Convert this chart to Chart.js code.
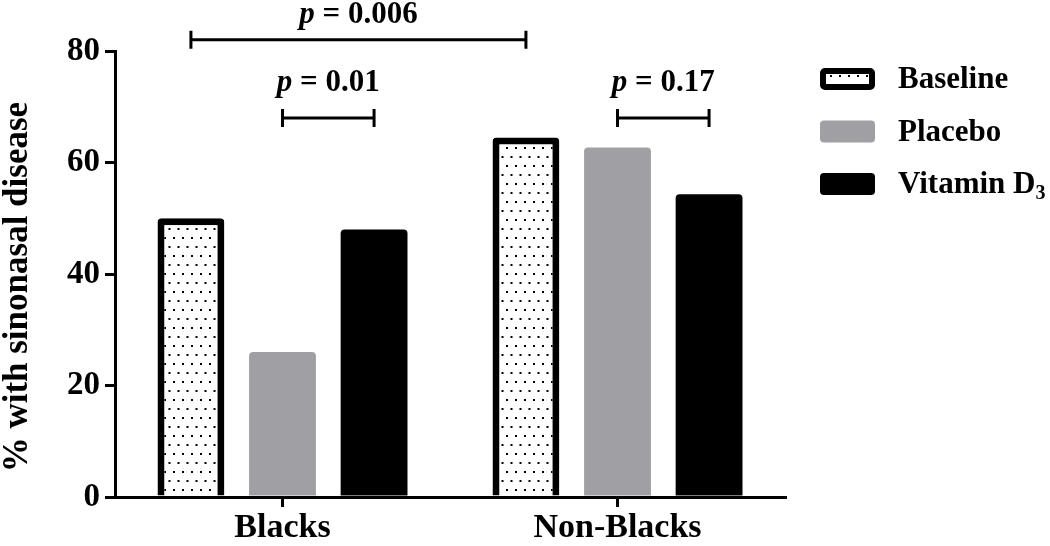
<!DOCTYPE html>
<html>
<head>
<meta charset="utf-8">
<script src="https://cdn.jsdelivr.net/npm/chart.js@4.4.1/dist/chart.umd.min.js"></script>
<style>
  html, body { margin: 0; padding: 0; background: #fff; }
  #wrap { width: 1050px; height: 546px; }
</style>
</head>
<body>
<div id="wrap"><canvas id="bar-chart"></canvas></div>
<script>
const categories = ['Blacks', 'Non-Blacks'];
const seriesNames = ['Baseline', 'Placebo', 'Vitamin D'];
const baseline = [50, 64.5];
const placebo = [26, 62.7];
const vitaminD = [48, 54.3];
const yTicks = [0, 20, 40, 60, 80];
const pValues = ['0.006', '0.01', '0.17'];

const SERIF = "'Liberation Serif', 'Times New Roman', serif";

// dotted fill for the baseline bars
function dotPattern() {
  const c = document.createElement('canvas');
  c.width = 9; c.height = 18;
  const g = c.getContext('2d');
  g.fillStyle = '#fff';
  g.fillRect(0, 0, 9, 18);
  g.fillStyle = '#000';
  g.fillRect(2, 3, 2, 2);
  g.fillRect(6.5, 12, 2, 2);
  return g.createPattern(c, 'repeat');
}
const dots = dotPattern();

let base = {
  label: seriesNames[0],
  data: baseline,
  backgroundColor: dots,
  borderColor: '#000',
  borderWidth: 7,
  borderRadius: 4,
  borderSkipped: 'start'
};
let plac = {
  label: seriesNames[1],
  data: placebo,
  backgroundColor: '#a0a0a4',
  borderWidth: 0,
  borderRadius: 4,
  borderSkipped: 'start'
};
let vitd = {
  label: seriesNames[2],
  data: vitaminD,
  backgroundColor: '#000',
  borderWidth: 0,
  borderRadius: 4,
  borderSkipped: 'start',
  sub: '3'
};

function drawP(ctx, text, cx, cy) {
  const it = 'italic bold 31px ' + SERIF;
  const bd = 'bold 31px ' + SERIF;
  ctx.font = it;
  const w1 = ctx.measureText('p').width;
  ctx.font = bd;
  const rest = ' = ' + text;
  const w2 = ctx.measureText(rest).width;
  let x = cx - (w1 + w2) / 2;
  ctx.textBaseline = 'middle';
  ctx.textAlign = 'left';
  ctx.fillStyle = '#000';
  ctx.font = it;
  ctx.fillText('p', x, cy);
  ctx.font = bd;
  ctx.fillText(rest, x + w1, cy);
}

const brackets = {
  id: 'brackets',
  afterDatasetsDraw(chart) {
    const ctx = chart.ctx;
    const y = chart.scales.y;
    const m = i => chart.getDatasetMeta(i).data;
    const list = [
      { a: m(0)[0].x, b: m(0)[1].x, v: 82.0, t: pValues[0], up: 25 },
      { a: m(1)[0].x, b: m(2)[0].x, v: 68.0, t: pValues[1], up: 35 },
      { a: m(1)[1].x, b: m(2)[1].x, v: 68.0, t: pValues[2], up: 35 }
    ];
    ctx.save();
    ctx.strokeStyle = '#000';
    ctx.lineWidth = 3;
    list.forEach(br => {
      const py = y.getPixelForValue(br.v);
      ctx.beginPath();
      ctx.moveTo(br.a, py); ctx.lineTo(br.b, py);
      ctx.moveTo(br.a, py - 9); ctx.lineTo(br.a, py + 9);
      ctx.moveTo(br.b, py - 9); ctx.lineTo(br.b, py + 9);
      ctx.stroke();
      drawP(ctx, br.t, (br.a + br.b) / 2, py - br.up);
    });
    ctx.restore();
  }
};

function roundBox(ctx, x, y, w, h, r) {
  ctx.beginPath();
  ctx.moveTo(x + r, y);
  ctx.arcTo(x + w, y, x + w, y + h, r);
  ctx.arcTo(x + w, y + h, x, y + h, r);
  ctx.arcTo(x, y + h, x, y, r);
  ctx.arcTo(x, y, x + w, y, r);
  ctx.closePath();
}

const sideLegend = {
  id: 'sideLegend',
  afterDraw(chart) {
    const ctx = chart.ctx;
    ctx.save();
    chart.data.datasets.forEach((ds, i) => {
      const cy = 79 + i * 52.5;
      const bx = 820, bw = 55, bh = 22;
      if (ds.borderWidth) {
        roundBox(ctx, bx + 3, cy - bh / 2 + 3, bw - 6, bh - 6, 2);
        ctx.fillStyle = ds.backgroundColor;
        ctx.fill();
        ctx.lineWidth = 6;
        ctx.strokeStyle = ds.borderColor;
        ctx.stroke();
      } else {
        roundBox(ctx, bx, cy - bh / 2, bw, bh, 4);
        ctx.fillStyle = ds.backgroundColor;
        ctx.fill();
      }
      ctx.fillStyle = '#000';
      ctx.textAlign = 'left';
      ctx.textBaseline = 'middle';
      ctx.font = 'bold 31px ' + SERIF;
      ctx.fillText(ds.label, 898, cy + 1);
      if (ds.sub) {
        const w = ctx.measureText(ds.label).width;
        ctx.font = 'bold 20px ' + SERIF;
        ctx.fillText(ds.sub, 898 + w, cy + 10);
      }
    });
    ctx.restore();
  }
};

const config = {
  type: 'bar',
  data: { labels: categories, datasets: [base, plac, vitd] },
  options: {
    responsive: true,
    maintainAspectRatio: false,
    animation: false,
    layout: { padding: { top: 51, right: 265, left: 0, bottom: 0 } },
    datasets: { bar: { categoryPercentage: 0.82, barPercentage: 0.73 } },
    plugins: { legend: { display: false }, tooltip: { enabled: false } },
    scales: {
      x: {
        afterFit(s) { s.height = 49; },
        border: { color: '#000', width: 3 },
        grid: { offset: false, drawOnChartArea: false, drawTicks: true, tickLength: 10, color: '#000', lineWidth: 3 },
        ticks: { color: '#000', padding: 1, font: { family: SERIF, size: 34, weight: 'bold' } }
      },
      y: {
        min: 0,
        max: 80,
        afterFit(s) { s.width = 115; },
        afterBuildTicks(s) { s.ticks = yTicks.map(v => ({ value: v })); },
        border: { color: '#000', width: 3 },
        grid: { drawOnChartArea: false, drawTicks: true, tickLength: 10, color: '#000', lineWidth: 3 },
        ticks: { color: '#000', padding: 5, font: { family: SERIF, size: 33, weight: 'bold' } },
        title: {
          display: true,
          // trailing spaces nudge the rotated title down a little
          text: '% with sinonasal disease   ',
          color: '#000',
          padding: 0,
          font: { family: SERIF, size: 35, weight: 'bold', lineHeight: 1 }
        }
      }
    }
  },
  plugins: [brackets, sideLegend]
};

const myChart = new Chart(document.getElementById('bar-chart'), config);
</script>
</body>
</html>
